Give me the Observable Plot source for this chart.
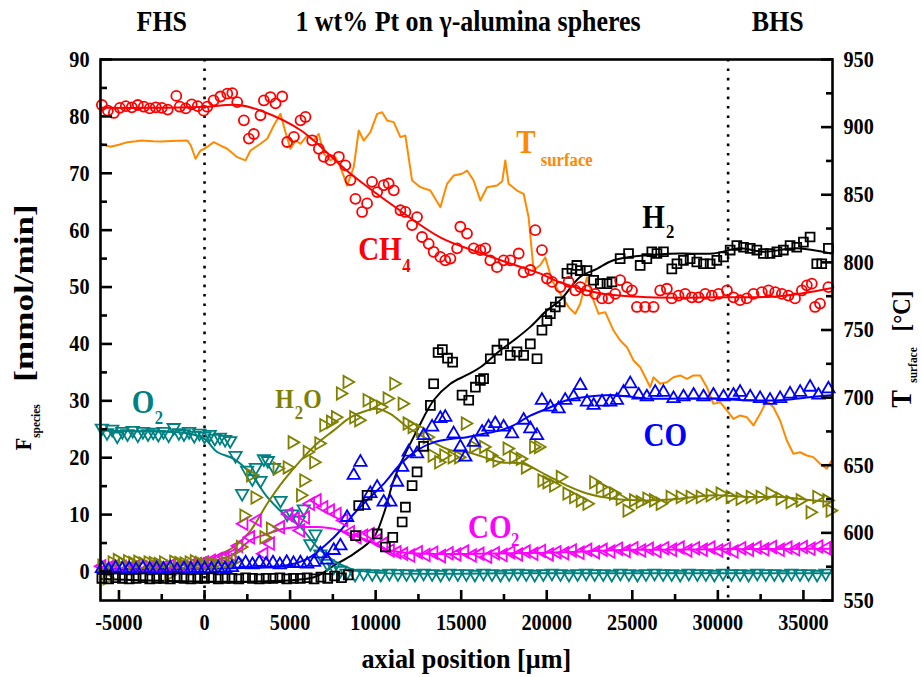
<!DOCTYPE html>
<html><head><meta charset="utf-8">
<script src="https://cdn.jsdelivr.net/npm/d3@7"></script>
<script src="https://cdn.jsdelivr.net/npm/@observablehq/plot@0.6"></script>
<style>body{margin:0;background:#fff}</style>
</head><body><div id="chart"></div>
<script>
// ---------- data (x in µm, F in mmol/min, T in °C) ----------
const xTicks = [-5000,0,5000,10000,15000,20000,25000,30000,35000];
const xMinor = [-2500,2500,7500,12500,17500,22500,27500,32500];
const yTicks = [0,10,20,30,40,50,60,70,80,90];
const yMinor = [5,15,25,35,45,55,65,75,85];
const tTicks = [550,600,650,700,750,800,850,900,950];
const tMinor = [575,625,675,725,775,825,875,925];
const sectionLines = [0, 30600];
const topLabels = [
  {text:"FHS", x:-2500},
  {text:"1 wt% Pt on γ-alumina spheres", x:15400},
  {text:"BHS", x:33500}
];

const ch4 = [[-6000,82.0],[-5650,81.0],[-5300,80.6],[-4950,81.5],[-4600,81.8],[-4250,81.6],[-3900,82.0],[-3550,81.7],[-3200,81.4],[-2850,81.6],[-2500,81.5],[-2150,81.2],[-1650,83.6],[-1450,81.7],[-1100,81.4],[-750,82.1],[-400,81.8],[-50,81.0],[160,81.7],[530,82.8],[930,83.5],[1330,84.0],[1620,84.1],[1910,82.5],[2300,79.3],[2590,76.1],[2880,76.9],[3270,80.2],[3470,82.8],[3850,83.4],[4150,82.3],[4540,83.5],[4830,75.5],[5220,76.4],[5610,79.3],[5900,79.9],[6290,75.8],[6680,74.3],[6970,72.9],[7360,72.3],[7850,72.9],[8230,71.4],[8530,68.8],[8820,65.5],[9210,63.2],[9500,64.7],[9790,68.5],[10090,66.7],[10470,67.9],[10760,68.2],[11060,67.0],[11450,63.5],[11740,63.2],[12130,60.9],[12420,62.3],[12710,58.8],[13100,57.6],[13390,56.2],[13780,55.3],[14070,54.7],[14370,55.0],[14760,56.8],[14950,60.6],[15340,59.4],[15730,56.8],[16120,56.5],[16410,56.8],[16700,54.7],[17090,53.5],[17480,54.7],[17870,54.7],[18360,55.9],[18650,52.6],[19040,53.0],[19330,60.0],[19720,56.5],[20010,51.5],[20310,50.9],[20790,50.0],[21280,50.9],[21670,49.4],[21960,50.0],[22350,49.4],[22830,48.8],[23230,48.0],[23610,48.0],[24000,48.8],[24290,51.2],[24690,50.0],[24980,49.4],[25270,46.5],[25750,46.5],[26240,46.5],[26630,49.4],[27020,49.7],[27310,48.0],[27700,48.5],[28090,48.8],[28480,48.2],[28870,48.2],[29260,48.8],[29650,48.5],[30040,48.8],[30530,49.4],[30910,48.2],[31300,47.7],[31690,48.0],[32080,48.8],[32570,49.1],[32960,49.4],[33350,49.1],[33740,48.8],[34120,48.5],[34510,48.0],[34910,49.4],[35200,50.3],[35490,50.6],[35680,46.5],[35970,47.1],[36460,50.0]];
const ch4Fit = [[-6000,81.5],[-3000,81.5],[0,81.7],[2000,82.0],[3300,81.0],[5600,77.6],[8500,70.0],[11400,63.5],[13800,58.7],[16100,56.0],[18000,54.0],[19600,52.4],[20800,50.8],[23100,48.9],[26000,48.2],[30000,48.2],[33600,48.4],[36600,49.8]];

const h2 = [[-6000,-1.2],[-5600,-1.3],[-5200,-1.1],[-4800,-1.2],[-4400,-1.3],[-4000,-1.2],[-3600,-1.1],[-3200,-1.3],[-2800,-1.2],[-2400,-1.2],[-2000,-1.3],[-1600,-1.1],[-1200,-1.2],[-800,-1.3],[-400,-1.2],[0,-1.2],[400,-1.1],[800,-1.3],[1200,-1.2],[1600,-1.2],[2000,-1.3],[2400,-1.1],[2800,-1.2],[3200,-1.3],[3600,-1.2],[4000,-1.2],[4400,-1.1],[4800,-1.3],[5200,-1.2],[5600,-1.2],[6000,-1.1],[6400,-1.3],[6800,-1.0],[7200,-1.2],[7600,-0.8],[8000,-1.1],[8400,-0.6],[8820,6.3],[9010,11.6],[9500,13.4],[10090,6.6],[10570,4.3],[11000,6.0],[11550,8.7],[11740,11.3],[12130,15.1],[12420,17.5],[12800,22.0],[13200,29.2],[13390,33.0],[13650,38.5],[13900,39.0],[14200,37.5],[14500,36.8],[15050,31.0],[15440,30.1],[15830,32.4],[16120,33.6],[16310,33.9],[16700,37.4],[17090,38.9],[17480,40.0],[17870,38.0],[18260,38.6],[18650,38.0],[19040,40.0],[19430,37.4],[19720,42.4],[20010,44.1],[20210,45.3],[20500,46.5],[20790,47.4],[21180,52.4],[21470,53.2],[21760,53.8],[21960,52.9],[22350,52.9],[22740,51.2],[23130,50.6],[23520,50.6],[23810,50.9],[24290,55.0],[24780,55.9],[25460,53.8],[25850,55.0],[26140,56.2],[26440,55.9],[26820,56.2],[27310,53.2],[27610,54.1],[27990,54.7],[28380,55.0],[28770,54.4],[29160,54.1],[29550,54.1],[29940,54.7],[30330,55.3],[30720,56.5],[31110,57.3],[31500,57.0],[31890,56.8],[32280,56.5],[32660,55.9],[33050,55.9],[33450,56.2],[33830,56.5],[34220,57.3],[34610,57.0],[35000,57.9],[35390,58.8],[35780,54.1],[36070,54.1],[36460,56.8]];
const h2Fit = [[-6000,-1.3],[6400,-1.0],[7530,1.0],[8720,3.1],[9890,6.0],[10470,10.1],[11050,16.0],[11640,20.1],[12420,24.8],[13390,30.1],[14370,33.0],[15300,34.5],[16120,35.9],[17290,38.9],[18060,40.6],[19040,43.0],[20010,45.9],[20790,47.7],[21960,51.8],[22930,53.2],[23900,54.7],[25850,55.6],[27800,55.9],[29740,55.9],[31300,56.8],[32660,56.2],[34610,56.8],[36600,55.9]];

const co = [[-6000,0.5],[-5600,0.3],[-5200,0.6],[-4800,0.4],[-4400,0.5],[-4000,0.3],[-3600,0.6],[-3200,0.4],[-2800,0.5],[-2400,0.4],[-2000,0.6],[-1600,0.3],[-1200,0.5],[-800,0.4],[-400,0.6],[0,0.5],[400,0.4],[800,0.6],[1200,0.5],[1600,0.7],[2000,1.3],[2400,1.5],[2800,1.2],[3200,1.6],[3600,1.3],[4000,1.5],[4400,1.2],[4800,1.6],[5200,1.4],[5600,1.5],[6000,1.3],[6400,1.6],[6770,3.1],[7150,2.0],[7550,3.7],[7940,4.5],[8330,9.5],[8720,16.9],[9110,19.2],[9300,11.6],[9690,13.7],[10090,14.8],[10470,12.2],[10860,12.2],[11250,15.7],[11550,18.3],[11930,21.0],[12420,20.7],[12810,23.9],[13300,25.4],[13780,26.9],[14070,27.1],[14560,24.2],[14950,21.9],[15240,20.1],[15730,22.7],[16220,24.5],[16600,25.4],[16990,26.0],[17480,25.4],[17970,24.2],[18650,26.6],[19040,25.1],[19430,23.9],[19720,30.1],[20210,28.9],[20690,28.6],[21080,30.1],[21570,30.7],[21960,32.7],[22350,29.8],[22740,29.2],[23230,29.8],[23710,29.8],[24100,30.1],[24490,31.5],[24880,33.0],[25370,31.0],[25850,30.7],[26340,31.5],[26820,31.5],[27410,30.4],[27990,30.7],[28580,31.0],[29160,30.7],[29740,31.0],[30330,30.7],[30910,31.0],[31300,31.5],[31890,30.7],[32470,30.4],[33050,30.1],[33640,30.4],[34220,31.2],[34810,31.5],[35390,32.4],[35880,31.0],[36460,32.1]];
const coFit = [[-6000,0.4],[0,0.5],[3000,0.7],[4830,1.1],[6000,2.2],[7170,4.9],[7940,7.2],[8720,10.1],[9690,13.1],[10470,15.4],[11450,18.9],[12420,21.3],[13390,22.7],[14370,23.3],[15340,23.6],[16310,24.2],[17290,24.8],[18060,25.7],[19040,27.4],[20010,28.6],[21180,30.1],[22350,30.7],[23900,31.0],[25850,30.4],[27800,30.4],[29740,30.4],[31700,30.1],[33640,30.1],[35580,30.7],[36600,31.0]];

const h2o = [[-6000,1.0],[-5700,-1.2],[-5400,1.6],[-5100,2.0],[-4800,1.4],[-4500,1.8],[-4200,1.5],[-3900,1.7],[-3600,1.4],[-3300,1.6],[-3000,1.5],[-2700,1.3],[-2400,1.6],[-2100,-0.6],[-1800,1.7],[-1500,1.5],[-1200,1.4],[-900,1.6],[-600,1.8],[-300,1.5],[0,1.2],[300,1.4],[600,1.3],[900,1.1],[1200,1.5],[1500,1.6],[1800,2.0],[2100,4.3],[2300,9.8],[2690,16.9],[2950,13.0],[3470,6.0],[3850,7.5],[4240,18.1],[4830,18.3],[5120,22.7],[5610,13.4],[5800,16.0],[6000,21.0],[6380,19.2],[6680,22.5],[6970,25.7],[7360,26.3],[7650,27.1],[7940,31.3],[8330,33.3],[8720,27.1],[9010,26.6],[9500,30.1],[9890,29.5],[10280,28.9],[10670,30.4],[11060,33.0],[11550,29.5],[11840,26.0],[12130,25.4],[12610,24.8],[13010,23.6],[13300,20.4],[13680,19.2],[13980,20.4],[14470,20.1],[14850,20.1],[15240,26.0],[15730,21.9],[16310,21.9],[16700,20.4],[17090,19.5],[17680,21.6],[18060,20.1],[18450,19.8],[18750,18.3],[19230,21.9],[19520,21.9],[19720,16.0],[20010,15.7],[20400,15.1],[20790,16.6],[21180,13.7],[21570,13.1],[21960,12.5],[22350,11.9],[22740,15.7],[23130,14.8],[23520,14.2],[23900,13.7],[24290,12.8],[24690,10.7],[25070,12.5],[25460,12.2],[25850,12.8],[26240,12.5],[26630,11.9],[27210,13.1],[27800,13.1],[28380,13.1],[28970,13.1],[29550,13.4],[30130,13.7],[30720,13.1],[31300,12.8],[31890,13.1],[32470,13.1],[33050,13.7],[33640,12.8],[34220,12.2],[34810,12.5],[35390,10.4],[35780,13.1],[36370,12.5],[36560,10.7]];
const h2oFit = [[-6000,-0.1],[-3000,0.2],[-1000,0.7],[0,1.5],[740,2.8],[1710,4.3],[2690,7.2],[3660,11.9],[4630,16.0],[5610,19.5],[6580,22.5],[7550,24.8],[8530,27.1],[9500,28.3],[10090,28.6],[10860,27.7],[11840,25.4],[13010,23.3],[14370,21.3],[15340,21.0],[16310,20.1],[17290,19.2],[18650,18.9],[20010,16.9],[21180,15.1],[22350,13.7],[23900,12.8],[25850,12.5],[27800,12.8],[29740,13.4],[31700,13.1],[33640,13.1],[35580,12.5],[36600,12.2]];

const o2 = [[-6000,25.2],[-5700,24.4],[-5400,25.0],[-5100,23.8],[-4800,24.6],[-4500,24.2],[-4200,24.8],[-3900,24.0],[-3600,24.6],[-3300,24.2],[-3000,24.5],[-2700,24.1],[-2400,24.6],[-2100,24.0],[-1800,25.3],[-1500,24.4],[-1200,24.2],[-900,24.6],[-600,23.9],[-300,24.3],[0,23.8],[300,24.1],[600,23.4],[900,23.6],[1200,23.2],[1500,23.0],[1810,20.4],[2200,13.7],[2490,17.8],[2790,16.3],[3000,18.3],[3270,16.0],[3470,19.8],[3700,19.5],[4050,18.3],[4440,12.5],[4830,10.1],[5120,10.1],[5510,9.0],[5800,11.0],[6190,4.9],[6480,6.6],[6770,3.1],[7170,1.4],[7550,0.8],[7940,0.2],[8300,-0.3],[8800,-0.5],[9300,-0.3],[9800,-0.4],[10300,-0.5],[10800,-0.3],[11300,-0.4],[11800,-0.4],[12300,-0.5],[12800,-0.3],[13300,-0.4],[13800,-0.5],[14300,-0.3],[14800,-0.4],[15300,-0.4],[15800,-0.5],[16300,-0.3],[16800,-0.4],[17300,-0.5],[17800,-0.4],[18300,-0.3],[18800,-0.4],[19300,-0.5],[19800,-0.4],[20300,-0.3],[20800,-0.4],[21300,-0.5],[21800,-0.4],[22300,-0.3],[22800,-0.4],[23300,-0.4],[23800,-0.5],[24300,-0.3],[24800,-0.4],[25300,-0.5],[25800,-0.4],[26300,-0.3],[26800,-0.4],[27300,-0.4],[27800,-0.5],[28300,-0.3],[28800,-0.4],[29300,-0.4],[29800,-0.5],[30300,-0.3],[30800,-0.4],[31300,-0.4],[31800,-0.5],[32300,-0.3],[32800,-0.4],[33300,-0.4],[33800,-0.5],[34300,-0.3],[34800,-0.4],[35300,-0.4],[35800,-0.5],[36300,-0.3]];
const o2Fit = [[-6000,24.8],[-3000,24.6],[-1000,24.3],[0,23.3],[740,21.0],[1710,19.8],[2690,17.2],[3660,13.1],[4630,10.1],[5610,7.8],[6580,4.3],[7550,1.9],[8530,0.5],[10000,-0.2],[20000,-0.3],[36600,-0.3]];

const co2 = [[-6000,0.9],[-5600,0.7],[-5200,1.0],[-4800,0.8],[-4400,0.6],[-4000,0.9],[-3600,0.8],[-3200,0.7],[-2800,0.9],[-2400,0.8],[-2000,1.0],[-1600,0.8],[-1200,0.9],[-800,1.1],[-400,1.3],[0,1.6],[400,1.9],[800,2.2],[1200,2.5],[1600,2.9],[2000,4.5],[2300,8.4],[2690,6.0],[3080,9.0],[3470,3.1],[3850,4.9],[4440,7.8],[4920,10.1],[5310,9.3],[5610,7.2],[5900,9.5],[6190,11.9],[6580,12.5],[6970,11.3],[7360,10.7],[7750,10.1],[8140,9.0],[8530,6.9],[8920,6.0],[9300,6.3],[9690,6.6],[10090,5.5],[10470,4.9],[10860,3.7],[11250,3.4],[11640,3.1],[12050,2.8],[12500,3.4],[12950,2.9],[13400,3.3],[13850,2.7],[14300,3.2],[14750,3.0],[15200,3.5],[15650,2.8],[16100,3.1],[16550,2.6],[17000,3.2],[17450,2.9],[17900,3.4],[18350,3.0],[18800,3.5],[19250,3.1],[19700,3.6],[20150,3.0],[20600,3.4],[21050,3.2],[21500,3.7],[21950,3.3],[22400,3.8],[22850,3.4],[23300,3.8],[23750,3.5],[24200,4.0],[24650,3.6],[25100,4.1],[25550,3.7],[26000,4.0],[26450,3.6],[26900,4.1],[27350,3.8],[27800,4.2],[28250,3.7],[28700,4.1],[29150,3.8],[29600,4.2],[30050,3.7],[30500,4.0],[30950,3.5],[31400,4.1],[31850,3.8],[32300,4.2],[32750,3.9],[33200,4.3],[33650,3.8],[34100,4.2],[34550,3.9],[35000,4.3],[35450,4.0],[35900,4.4],[36350,4.1]];
const co2Fit = [[-6000,0.5],[-2000,0.6],[0,0.8],[740,1.9],[1710,3.1],[2690,5.5],[3660,6.6],[4630,7.5],[5610,7.8],[6580,7.8],[7550,7.5],[8530,6.6],[9500,5.5],[10470,4.0],[11450,3.4],[13000,3.1],[16000,3.1],[20000,3.3],[25000,3.8],[30000,3.9],[36600,4.0]];

const tSurface = [[-6050,887.7],[-5500,885.5],[-5000,887.0],[-4500,888.9],[-4000,889.5],[-3700,890.1],[-3000,889.5],[-2500,889.4],[-2000,889.8],[-1000,890.1],[-800,886.4],[-526,876.6],[-234,882.7],[0,884.0],[540,888.9],[1000,886.0],[1326,884.0],[1910,877.8],[2394,875.4],[2686,882.7],[3270,887.7],[3662,891.4],[4047,901.2],[4438,909.8],[4730,896.3],[5022,884.0],[5314,890.1],[5606,887.7],[5998,893.8],[6383,890.1],[6675,895.0],[6967,880.3],[7358,875.4],[7650,877.8],[7942,870.4],[8334,856.8],[8719,870.4],[9011,897.5],[9303,890.1],[9694,896.3],[10086,909.8],[10378,911.0],[10670,904.9],[11055,903.7],[11446,892.6],[11738,893.8],[12130,860.5],[12614,855.6],[13198,853.1],[13782,840.8],[14173,858.1],[14559,864.2],[15050,865.5],[15342,867.9],[15727,860.5],[16118,845.8],[16510,855.6],[17094,856.8],[17400,860.0],[17578,875.4],[17771,858.1],[18262,853.1],[18648,850.7],[18940,833.4],[19231,794.0],[19622,798.0],[19914,803.8],[20306,786.6],[20790,776.8],[21275,766.9],[21666,762.0],[21958,769.4],[22350,789.0],[22735,771.8],[23027,762.0],[23418,763.2],[23903,749.6],[24294,742.2],[24686,737.3],[25071,727.4],[25462,722.5],[25854,712.7],[26046,707.7],[26239,715.1],[26630,710.2],[27021,711.4],[27407,715.1],[27798,716.4],[28189,713.9],[28575,716.4],[28966,716.4],[29358,707.7],[29743,695.4],[30134,696.6],[30526,690.5],[30911,684.3],[31302,686.8],[31694,685.5],[32079,679.4],[32470,688.0],[32862,697.9],[33247,692.9],[33638,683.1],[34030,668.3],[34415,658.5],[34806,659.6],[35198,657.2],[35583,656.0],[35974,651.1],[36366,647.4],[36650,653.5]];

// species labels: main glyphs and their subscripts, placed in data coordinates
const labelMain = [
  {s:"CH4", text:"CH", x:10250, y:56.7},
  {s:"T", text:"T", x:18776, y:75.4},
  {s:"H2", text:"H", x:26240, y:62.3},
  {s:"CO", text:"CO", x:26922, y:23.9},
  {s:"CO2", text:"CO", x:16673, y:7.7},
  {s:"O2", text:"O", x:-3592, y:29.8}
];
const labelWater = [
  {s:"H2O", text:"H", x:4672, y:30.2},
  {s:"H2O", text:"O", x:6307, y:30.2}
];
const labelSub = [
  {s:"CH4", text:"4", x:11800, y:53.8},
  {s:"T", text:"surface", x:21170, y:72.3},
  {s:"H2", text:"2", x:27214, y:59.7},
  {s:"CO2", text:"2", x:18160, y:5.5},
  {s:"H2O", text:"2", x:5519, y:27.9},
  {s:"O2", text:"2", x:-2669, y:27.0}
];

// ---------- styling ----------
const colors = {CH4:"#ff0000", T:"#ff8a00", H2:"#000000", CO:"#0000ff", CO2:"#ff00ff", H2O:"#808000", O2:"#008080"};
const yMin = -5.1, yMax = 90;
const toV = T => yMin + (T - 550) / 400 * (yMax - yMin);
const toT = v => 550 + (v - yMin) / (yMax - yMin) * 400;
const serif = "'Liberation Serif','Times New Roman',serif";
const px = d => d[0], py = d => d[1];
const tickFont = 23;
const bold = {fontWeight: "bold", textAnchor: "middle", lineAnchor: "middle"};

const chart = Plot.plot({
  width: 921, height: 677,
  marginLeft: 100, marginRight: 89, marginTop: 59, marginBottom: 77,
  x: {domain: [-6080, 36700]},
  y: {domain: [yMin, yMax]},
  color: {type: "identity"},
  style: {fontFamily: serif, background: "#fff", color: "#000"},
  marks: [
    Plot.ruleX(sectionLines, {stroke: "#000", strokeWidth: 2.6, strokeDasharray: "2.6 6.8"}),
    Plot.line(tSurface, {x: px, y: d => toV(d[1]), stroke: colors.T, strokeWidth: 2}),
    Plot.line(o2Fit, {x: px, y: py, stroke: colors.O2, strokeWidth: 2, curve: "catmull-rom"}),
    Plot.line(co2Fit, {x: px, y: py, stroke: colors.CO2, strokeWidth: 2, curve: "catmull-rom"}),
    Plot.line(h2oFit, {x: px, y: py, stroke: colors.H2O, strokeWidth: 2, curve: "catmull-rom"}),
    Plot.line(coFit, {x: px, y: py, stroke: colors.CO, strokeWidth: 2, curve: "catmull-rom"}),
    Plot.line(h2Fit, {x: px, y: py, stroke: colors.H2, strokeWidth: 2, curve: "catmull-rom"}),
    Plot.line(ch4Fit, {x: px, y: py, stroke: colors.CH4, strokeWidth: 2, curve: "catmull-rom"}),
    Plot.dot(o2, {x: px, y: py, symbol: "triangle", rotate: 180, r: 4.6, stroke: colors.O2, strokeWidth: 1.8}),
    Plot.dot(co2, {x: px, y: py, symbol: "triangle", rotate: -90, r: 4.6, stroke: colors.CO2, strokeWidth: 1.8}),
    Plot.dot(h2o, {x: px, y: py, symbol: "triangle", rotate: 90, r: 4.6, stroke: colors.H2O, strokeWidth: 1.8}),
    Plot.dot(co, {x: px, y: py, symbol: "triangle", r: 4.6, stroke: colors.CO, strokeWidth: 1.8}),
    Plot.dot(h2, {x: px, y: py, symbol: "square", r: 5, stroke: colors.H2, strokeWidth: 1.8}),
    Plot.dot(ch4, {x: px, y: py, symbol: "circle", r: 5, stroke: colors.CH4, strokeWidth: 1.8}),
    // species labels
    Plot.text(labelMain, {x: "x", y: "y", text: "text", fill: d => colors[d.s], fontSize: 33, ...bold}),
    Plot.text(labelWater, {x: "x", y: "y", text: "text", fill: d => colors[d.s], fontSize: 27, ...bold}),
    Plot.text(labelSub, {x: "x", y: "y", text: "text", fill: d => colors[d.s], fontSize: 19, ...bold}),
    // frame
    Plot.frame({stroke: "#000", strokeWidth: 2.6}),
    // left axis
    Plot.axisY(yTicks, {anchor: "left", tickSize: 12, dx: 12, tickFormat: () => "", strokeWidth: 2.6, label: null}),
    Plot.axisY(yMinor, {anchor: "left", tickSize: 7, dx: 7, tickFormat: () => "", strokeWidth: 2.6, label: null}),
    Plot.axisY(yTicks, {anchor: "left", tickSize: 0, tickPadding: 11, fontSize: tickFont, fontWeight: "bold", label: null}),
    // right axis (T surface)
    Plot.axisY(tTicks.map(toV), {anchor: "right", tickSize: 12, dx: -12, tickFormat: () => "", strokeWidth: 2.6, label: null}),
    Plot.axisY(tMinor.map(toV), {anchor: "right", tickSize: 7, dx: -7, tickFormat: () => "", strokeWidth: 2.6, label: null}),
    Plot.axisY(tTicks.map(toV), {anchor: "right", tickSize: 0, tickPadding: 11, tickFormat: v => String(Math.round(toT(v))), fontSize: tickFont, fontWeight: "bold", label: null}),
    // bottom axis
    Plot.axisX(xTicks, {anchor: "bottom", tickSize: 10, dy: -10, tickFormat: () => "", strokeWidth: 2.6, label: null}),
    Plot.axisX(xMinor, {anchor: "bottom", tickSize: 6, dy: -6, tickFormat: () => "", strokeWidth: 2.6, label: null}),
    Plot.axisX(xTicks, {anchor: "bottom", tickSize: 0, tickPadding: 13, tickFormat: d => String(d), fontSize: tickFont, fontWeight: "bold", label: null}),
    // axis titles
    Plot.text(["axial position [μm]"], {frameAnchor: "bottom", x: [15300], dy: 59, fontSize: 27, ...bold}),
    Plot.text(["F"], {frameAnchor: "left", dx: -77, dy: 114, rotate: -90, fontSize: 23, ...bold}),
    Plot.text(["species"], {frameAnchor: "left", dx: -65, dy: 91, rotate: -90, fontSize: 13, ...bold}),
    Plot.text(["[mmol/min]"], {frameAnchor: "left", dx: -76, dy: -37, rotate: -90, fontSize: 27, ...bold}),
    Plot.text(["T"], {frameAnchor: "right", dx: 69, dy: 69, rotate: -90, fontSize: 30, ...bold}),
    Plot.text(["surface"], {frameAnchor: "right", dx: 80, dy: 35, rotate: -90, fontSize: 13, ...bold}),
    Plot.text(["[°C]"], {frameAnchor: "right", dx: 69, dy: -19, rotate: -90, fontSize: 26, ...bold}),
    // top labels
    Plot.text(topLabels, {frameAnchor: "top", x: "x", text: "text", dy: -38, fontSize: 29.5, ...bold})
  ]
});

// the reference typeface is a narrow bold serif: squeeze glyphs along the text direction
const stretch = {"[mmol/min]": 1.3, "axial position [μm]": 0.97};
chart.querySelectorAll("text").forEach(t => {
  const tr = t.getAttribute("transform");
  const k = stretch[t.textContent] || 0.88;
  if (tr) t.setAttribute("transform", tr + ` scale(${k},1)`);
});
document.getElementById("chart").append(chart);
</script></body></html>
